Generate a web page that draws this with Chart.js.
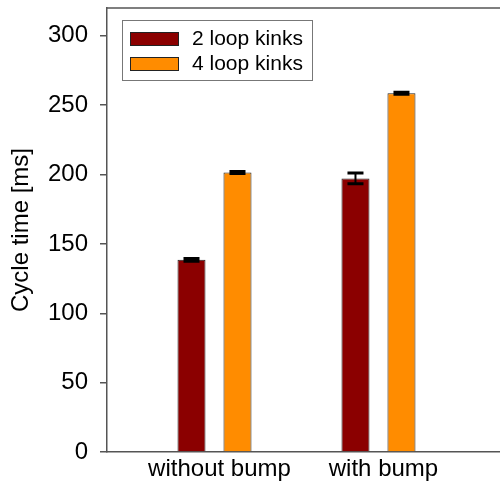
<!DOCTYPE html>
<html>
<head>
<meta charset="utf-8">
<script src="https://cdn.jsdelivr.net/npm/chart.js@4/dist/chart.umd.min.js"></script>
<style>
  html, body { margin: 0; padding: 0; background: #fff; overflow: hidden; }
  #wrap { width: 500px; height: 482px; overflow: hidden; }
</style>
</head>
<body>
<div id="wrap"><canvas id="chart" width="540" height="482"></canvas></div>
<script>
// data
const categories = ["without bump", "with bump"];
const seriesNames = ["2 loop kinks", "4 loop kinks"];
const twoLoop = [138.5, 197.2];
const twoLoopErr = [1.0, 3.8];
const fourLoop = [201.4, 258.6];
const fourLoopErr = [0.7, 0.7];
const yTicks = [0, 50, 100, 150, 200, 250, 300];

const axisColor = "#555";
const fontFamily = "'Liberation Sans', Arial, sans-serif";

// error bars drawn over each bar
const errorBars = {
  id: "errorBars",
  afterDatasetsDraw(chart) {
    const ctx = chart.ctx;
    const y = chart.scales.y;
    chart.data.datasets.forEach((ds, di) => {
      const meta = chart.getDatasetMeta(di);
      meta.data.forEach((bar, i) => {
        const v = ds.data[i].y;
        const e = ds.errors[i];
        const top = y.getPixelForValue(v + e);
        const bot = y.getPixelForValue(v - e);
        ctx.save();
        ctx.strokeStyle = "#000";
        ctx.lineWidth = 2;
        ctx.beginPath();
        ctx.moveTo(bar.x, top);
        ctx.lineTo(bar.x, bot);
        ctx.stroke();
        ctx.lineWidth = 3;
        ctx.beginPath();
        ctx.moveTo(bar.x - 8, top);
        ctx.lineTo(bar.x + 8, top);
        ctx.moveTo(bar.x - 8, bot);
        ctx.lineTo(bar.x + 8, bot);
        ctx.stroke();
        ctx.restore();
      });
    });
  },
};

// top frame line + boxed legend inside the plot
const frameAndLegend = {
  id: "frameAndLegend",
  afterDraw(chart) {
    const ctx = chart.ctx;
    const area = chart.chartArea;
    ctx.save();
    ctx.strokeStyle = axisColor;
    ctx.lineWidth = 1.5;
    ctx.beginPath();
    ctx.moveTo(area.left, area.top);
    ctx.lineTo(area.right, area.top);
    ctx.stroke();

    ctx.fillStyle = "#fff";
    ctx.fillRect(122, 20, 190, 60);
    ctx.strokeStyle = "#777";
    ctx.lineWidth = 1;
    ctx.strokeRect(122.5, 20.5, 190, 60);

    ctx.font = "21px " + fontFamily;
    ctx.textBaseline = "middle";
    chart.data.datasets.forEach((ds, i) => {
      const cy = 38 + i * 25;
      ctx.fillStyle = ds.backgroundColor;
      ctx.fillRect(130, cy - 6, 48, 13);
      ctx.strokeStyle = "#222";
      ctx.strokeRect(130.5, cy - 5.5, 48, 13);
      ctx.fillStyle = "#000";
      ctx.fillText(ds.label, 192, cy + 1);
    });
    ctx.restore();
  },
};

const toPoints = (vals) => vals.map((v, i) => ({ x: i, y: v }));

const noPadding = (scale) => {
  scale.paddingLeft = 0;
  scale.paddingRight = 0;
  scale.paddingTop = 0;
  scale.paddingBottom = 0;
};

new Chart(document.getElementById("chart"), {
  type: "bar",
  data: {
    datasets: [
      {
        label: seriesNames[0],
        data: toPoints(twoLoop),
        errors: twoLoopErr,
        backgroundColor: "#8b0000",
        borderColor: "#222",
        borderWidth: 1,
      },
      {
        label: seriesNames[1],
        data: toPoints(fourLoop),
        errors: fourLoopErr,
        backgroundColor: "#ff8c00",
        borderColor: "#222",
        borderWidth: 1,
      },
    ],
  },
  options: {
    responsive: false,
    animation: false,
    categoryPercentage: 0.561,
    barPercentage: 0.609,
    layout: { padding: { top: 8, left: 0, right: 0, bottom: 0 } },
    plugins: {
      legend: { display: false },
      tooltip: { enabled: false },
    },
    scales: {
      x: {
        type: "linear",
        offset: false,
        min: -0.6555,
        max: 1.985,
        afterFit: (scale) => { scale.height = 30; noPadding(scale); },
        grid: { display: false, drawTicks: false, offset: false },
        border: { display: true, color: axisColor, width: 1.5 },
        ticks: {
          stepSize: 1,
          includeBounds: false,
          autoSkip: false,
          maxRotation: 0,
          padding: 3,
          labelOffset: 5,
          color: "#000",
          font: { size: 24, family: fontFamily },
          callback: (v) => categories[v] ?? "",
        },
      },
      y: {
        min: 0,
        max: 320,
        afterFit: (scale) => { scale.width = 107; noPadding(scale); },
        afterBuildTicks: (scale) => { scale.ticks = yTicks.map((v) => ({ value: v })); },
        grid: {
          display: true,
          drawOnChartArea: false,
          drawTicks: true,
          tickLength: 7,
          color: axisColor,
          lineWidth: 1.5,
        },
        border: { display: true, color: axisColor, width: 1.5 },
        ticks: {
          padding: 12,
          color: "#000",
          font: { size: 24, family: fontFamily },
        },
        title: {
          display: true,
          text: "Cycle time [ms]",
          color: "#000",
          padding: { top: 7, bottom: 0 },
          font: { size: 24, family: fontFamily },
        },
      },
    },
  },
  plugins: [errorBars, frameAndLegend],
});
</script>
</body>
</html>
